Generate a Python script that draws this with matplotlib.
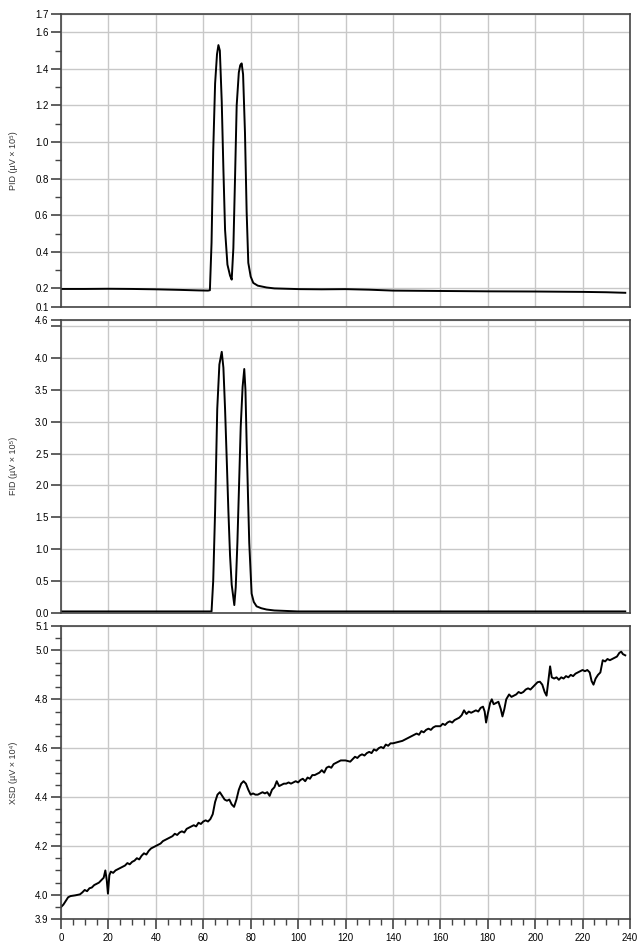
import matplotlib
matplotlib.use("Agg")
import matplotlib.pyplot as plt
from matplotlib.ticker import MultipleLocator, FixedLocator

plt.rcParams['font.family'] = ['Liberation Sans', 'DejaVu Sans']

# --- data (time in s) ---
pid_t = [0, 10, 20, 30, 40, 50, 58, 62, 62.8, 63.5, 64.2, 65.0, 65.8, 66.4, 67.0,
         67.8, 68.5, 69.2, 70.2, 71.3, 72.0, 72.7, 73.4, 74.1, 75.0, 75.6, 76.2,
         76.8, 77.6, 78.3, 79.0, 80.0, 81.1, 83.0, 86.7, 90, 100.8, 110, 120,
         130, 140, 160, 180, 200, 220, 230, 238]
pid_v = [0.197, 0.197, 0.198, 0.197, 0.195, 0.192, 0.189, 0.188, 0.19, 0.45, 0.95,
         1.32, 1.48, 1.53, 1.50, 1.22, 0.85, 0.52, 0.33, 0.27, 0.248, 0.42, 0.80,
         1.20, 1.38, 1.42, 1.43, 1.37, 1.05, 0.62, 0.34, 0.265, 0.23, 0.215,
         0.205, 0.2, 0.196, 0.195, 0.196, 0.193, 0.188, 0.186, 0.184, 0.183,
         0.181, 0.179, 0.176]

fid_t = [0, 20, 40, 60, 63.5, 64.2, 65.0, 65.9, 66.8, 67.8, 68.5, 69.2, 70.0,
         70.6, 71.3, 72.0, 73.1, 73.7, 74.4, 75.1, 75.8, 76.6, 77.3, 77.8, 78.3,
         78.9, 79.4, 80.4, 81.3, 82.5, 84.5, 86.7, 90, 100, 120, 160, 200, 238]
fid_v = [0.02, 0.02, 0.02, 0.02, 0.02, 0.5, 1.6, 3.2, 3.9, 4.10, 3.85, 3.2, 2.3,
         1.6, 0.9, 0.44, 0.12, 0.4, 1.1, 2.0, 2.92, 3.55, 3.83, 3.5, 2.67, 1.8,
         1.1, 0.3, 0.17, 0.1, 0.07, 0.05, 0.035, 0.02, 0.02, 0.02, 0.02, 0.02]

xsd_t = [0, 1, 2, 3, 4, 6, 8, 9, 10, 11, 12, 13, 14, 15, 16, 17, 18, 18.7, 19.3,
         19.8, 20.4, 21, 22, 23, 24, 25, 26, 27, 28, 29, 30, 31, 32, 33, 34, 35,
         36, 37, 38, 39, 40, 41, 42, 43, 44, 45, 46, 47, 48, 49, 50, 51, 52, 53,
         54, 55, 56, 57, 58, 59, 60, 61, 62, 63, 64, 65, 66, 67, 68, 69, 70, 71,
         72, 73, 74, 75, 76, 77, 78, 79, 80, 81, 82, 83, 84, 85, 86, 87, 88, 89,
         90, 91, 92, 93, 94, 95, 96, 97, 98, 99, 100, 101, 102, 103, 104, 105,
         106, 107, 108, 109, 110, 111, 112, 113, 114, 115, 116, 117, 118, 120,
         122, 123, 124, 125, 126, 127, 128, 129, 130, 131, 132, 133, 134, 135,
         136, 137, 138, 139, 140, 142, 144, 145, 146, 147, 148, 149, 150, 151,
         152, 153, 154, 155, 156, 157, 158, 160, 161, 162, 163, 164, 165, 166,
         167, 168, 169, 170, 171, 172, 173, 174, 175, 176, 177, 178, 178.7,
         179.3, 180, 181, 181.7, 182.5, 183.5, 184.5, 185.5, 186.2, 187, 187.8,
         189, 190, 191, 192, 193, 194, 195, 196, 197, 198, 199, 200, 201, 202,
         203, 204, 204.8, 205.5, 206.3, 207, 208, 209, 210, 211, 212, 213, 214,
         215, 216, 217, 218, 219, 220, 221, 222, 223, 223.8, 224.6, 225.5,
         226.5, 227.5, 228.5, 229.5, 230.5, 231.5, 232.5, 233.5, 234.5, 235.5,
         236.3, 237, 238]
xsd_v = [3.95, 3.96, 3.975, 3.99, 3.995, 3.998, 4.002, 4.01, 4.02, 4.015, 4.027,
         4.03, 4.04, 4.045, 4.05, 4.06, 4.07, 4.10, 4.06, 4.005, 4.08, 4.095,
         4.09, 4.10, 4.105, 4.11, 4.115, 4.12, 4.13, 4.125, 4.135, 4.14, 4.15,
         4.145, 4.16, 4.17, 4.165, 4.18, 4.19, 4.195, 4.2, 4.205, 4.21, 4.22,
         4.225, 4.23, 4.235, 4.24, 4.25, 4.245, 4.255, 4.26, 4.255, 4.27, 4.275,
         4.28, 4.285, 4.28, 4.295, 4.29, 4.30, 4.305, 4.30, 4.31, 4.33, 4.38,
         4.41, 4.42, 4.405, 4.39, 4.385, 4.39, 4.37, 4.36, 4.39, 4.43, 4.455,
         4.465, 4.455, 4.43, 4.41, 4.415, 4.41, 4.41, 4.415, 4.42, 4.415, 4.42,
         4.405, 4.43, 4.44, 4.465, 4.445, 4.45, 4.455, 4.455, 4.46, 4.455, 4.46,
         4.465, 4.46, 4.47, 4.475, 4.465, 4.48, 4.475, 4.49, 4.49, 4.495, 4.5,
         4.51, 4.50, 4.52, 4.525, 4.52, 4.535, 4.54, 4.545, 4.55, 4.55, 4.545,
         4.555, 4.565, 4.56, 4.57, 4.575, 4.57, 4.58, 4.585, 4.58, 4.595, 4.59,
         4.60, 4.605, 4.60, 4.615, 4.61, 4.62, 4.62, 4.625, 4.63, 4.635, 4.64,
         4.645, 4.65, 4.655, 4.66, 4.655, 4.67, 4.665, 4.675, 4.68, 4.675, 4.685,
         4.69, 4.69, 4.70, 4.695, 4.705, 4.71, 4.705, 4.715, 4.72, 4.725, 4.735,
         4.755, 4.74, 4.75, 4.745, 4.75, 4.755, 4.75, 4.765, 4.77, 4.75, 4.705,
         4.74, 4.785, 4.80, 4.78, 4.785, 4.79, 4.76, 4.73, 4.76, 4.80, 4.82, 4.81,
         4.815, 4.82, 4.83, 4.825, 4.83, 4.84, 4.845, 4.84, 4.85, 4.86, 4.87,
         4.872, 4.86, 4.83, 4.815, 4.87, 4.935, 4.89, 4.885, 4.89, 4.88, 4.89,
         4.885, 4.895, 4.89, 4.9, 4.895, 4.905, 4.91, 4.915, 4.92, 4.915, 4.92,
         4.91, 4.875, 4.86, 4.885, 4.90, 4.91, 4.96, 4.955, 4.965, 4.96, 4.965,
         4.97, 4.975, 4.99, 4.995, 4.985, 4.98]

pid_ticks = [0.1, 0.2, 0.4, 0.6, 0.8, 1.0, 1.2, 1.4, 1.6, 1.7]
fid_ticks = [0.0, 0.5, 1.0, 1.5, 2.0, 2.5, 3.0, 3.5, 4.0, 4.5, 4.6]
fid_labels = ['0.0', '0.5', '1.0', '1.5', '2.0', '2.5', '3.0', '3.5', '4.0', '', '4.6']
xsd_ticks = [3.9, 4.0, 4.2, 4.4, 4.6, 4.8, 5.0, 5.1]

fig = plt.figure(figsize=(6.44, 9.47), dpi=100)
left, width = 61 / 644, 569 / 644
ax1 = fig.add_axes([left, 1 - 306.7 / 947, width, 292.7 / 947])
ax2 = fig.add_axes([left, 1 - 612.7 / 947, width, 292.7 / 947])
ax3 = fig.add_axes([left, 1 - 919.3 / 947, width, 293.3 / 947])

panels = [
    (ax1, pid_t, pid_v, (0.1, 1.7), 'PID (µV × 10⁵)'),
    (ax2, fid_t, fid_v, (0.0, 4.6), 'FID (µV × 10⁵)'),
    (ax3, xsd_t, xsd_v, (3.9, 5.1), 'XSD (µV × 10⁴)'),
]

for ax, t, v, ylim, label in panels:
    ax.plot(t, v, color='black', lw=1.4, solid_joinstyle='round')
    ax.set_xlim(0, 240)
    ax.set_ylim(*ylim)
    ax.xaxis.set_major_locator(MultipleLocator(20))
    ax.xaxis.set_minor_locator(MultipleLocator(5))
    ax.grid(True, which='major', color='#c8c8c8', lw=1.0)
    ax.set_axisbelow(True)
    for s in ax.spines.values():
        s.set_color('#444444')
        s.set_linewidth(1.2)
    ax.tick_params(axis='y', which='major', direction='out', length=7, width=1.2,
                   color='#444444', labelsize=7, pad=2)
    ax.tick_params(axis='y', which='minor', direction='out', length=4, width=1.0,
                   color='#444444')
    ax.set_ylabel(label, fontsize=6.5, color='#333333')
    ax.yaxis.set_label_coords(-0.075, 0.5)

ax1.yaxis.set_major_locator(FixedLocator(pid_ticks))
ax1.yaxis.set_minor_locator(FixedLocator([0.3, 0.5, 0.7, 0.9, 1.1, 1.3, 1.5]))
ax1.set_yticklabels([f'{x:.1f}' for x in pid_ticks])

ax2.yaxis.set_major_locator(FixedLocator(fid_ticks))
ax2.set_yticklabels(fid_labels)

ax3.yaxis.set_major_locator(FixedLocator(xsd_ticks))
ax3.yaxis.set_minor_locator(MultipleLocator(0.05))
ax3.set_yticklabels([f'{x:.1f}' for x in xsd_ticks])

for ax in (ax1, ax2):
    ax.tick_params(axis='x', which='both', bottom=False, labelbottom=False)

ax3.tick_params(axis='x', which='major', direction='out', length=7, width=1.2,
                color='#444444', labelsize=7, pad=3)
ax3.tick_params(axis='x', which='minor', direction='out', length=4, width=1.0,
                color='#444444')

fig.savefig('out.png', dpi=100, facecolor='white')
